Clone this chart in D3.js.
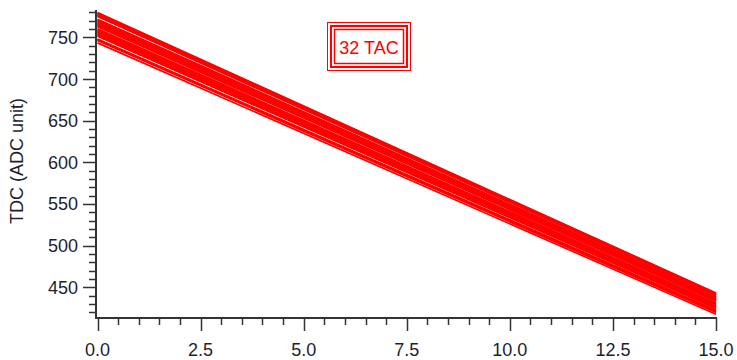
<!DOCTYPE html>
<html><head><meta charset="utf-8">
<script src="https://cdn.jsdelivr.net/npm/d3@7"></script>
<style>body{margin:0;background:#fff}svg{display:block}text{font-family:Arial,"Liberation Sans",sans-serif}</style>
</head><body><svg id="c" width="737" height="360"></svg>
<script>
// Data: 32 TAC lines, TDC value at x=0 and x=15
const xValues = [0, 15];
const startValues = [780, 779.2, 778.4, 777.6, 776.8, 776, 775.2,
  772, 771, 770, 769, 768, 767, 766, 765, 764, 763,
  760.5, 759.5, 758.5, 757.5, 756.5, 755.5, 754.5, 753.5, 752.5, 751.5,
  748, 747.5, 747, 746.5,
  743.5];
const endValues = [443, 442.5, 442, 441.5, 441, 440.5, 440,
  438.5, 438, 437.5, 437, 436, 435.5, 435, 434.5, 434, 433,
  431, 430.5, 429.5, 429, 428, 427.5, 427, 426, 425.5, 424.5,
  422.5, 421.5, 420.5, 419.5,
  417.5];
const xTicks = [0, 2.5, 5, 7.5, 10, 12.5, 15];
const yTicks = [450, 500, 550, 600, 650, 700, 750];
const legendLabel = "32 TAC";
const yTitle = "TDC (ADC unit)";

const svg = d3.select("#c");
const x = d3.scaleLinear().domain([0, 15]).range([97.5, 716]);
const y = d3.scaleLinear().domain([413, 783]).range([318, 10]);
const axisColor = "#333";

const series = startValues.map((s, i) => [[xValues[0], s], [xValues[1], endValues[i]]]);
const line = d3.line().x(d => x(d[0])).y(d => y(d[1]));
svg.append("g").selectAll("path").data(series).join("path")
  .attr("d", line).attr("fill", "none").attr("stroke", "#ff0000").attr("stroke-width", 1.7);

// Y axis
const yMinor = d3.range(420, 781, 10).filter(v => v % 50 !== 0);
const ya = svg.append("g").attr("transform", "translate(96,0)");
ya.append("line").attr("y1", 10).attr("y2", 318.5).attr("stroke", axisColor).attr("stroke-width", 2);
ya.selectAll(".mi").data(yMinor).join("line").attr("x1", -7).attr("x2", 0)
  .attr("y1", d => Math.round(y(d)) + 0.5).attr("y2", d => Math.round(y(d)) + 0.5).attr("stroke", axisColor).attr("stroke-width", 1.5);
ya.selectAll(".ma").data(yTicks).join("line").attr("x1", -13).attr("x2", 0)
  .attr("y1", d => Math.round(y(d)) + 0.5).attr("y2", d => Math.round(y(d)) + 0.5).attr("stroke", axisColor).attr("stroke-width", 1.5);
ya.selectAll("text").data(yTicks).join("text").attr("x", -18).attr("y", d => y(d)).attr("dy", "0.36em")
  .attr("text-anchor", "end").attr("font-size", 18).attr("fill", "#1e1e30").text(d => d);

// X axis
const xMinor = d3.range(0.5, 15, 0.5).filter(v => v % 2.5 !== 0);
const xa = svg.append("g").attr("transform", "translate(0,318)");
xa.append("line").attr("x1", 95).attr("x2", 717).attr("stroke", axisColor).attr("stroke-width", 2);
xa.selectAll(".mi").data(xMinor).join("line").attr("y1", 0).attr("y2", 7)
  .attr("x1", d => Math.round(x(d)) + 0.5).attr("x2", d => Math.round(x(d)) + 0.5).attr("stroke", axisColor).attr("stroke-width", 1.5);
xa.selectAll(".ma").data(xTicks).join("line").attr("y1", 0).attr("y2", 13)
  .attr("x1", d => Math.round(x(d)) + 0.5).attr("x2", d => Math.round(x(d)) + 0.5).attr("stroke", axisColor).attr("stroke-width", 1.5);
xa.selectAll("text").data(xTicks).join("text").attr("x", d => x(d)).attr("y", 38)
  .attr("text-anchor", "middle").attr("font-size", 18).attr("fill", "#1e1e30").text(d => d3.format(".1f")(d));

// Y title
svg.append("text").attr("transform", "translate(23,161) rotate(-90)").attr("text-anchor", "middle")
  .attr("font-size", 18).attr("fill", "#1e1e30").text(yTitle);

// Legend box
const lg = svg.append("g");
lg.append("rect").attr("x", 327.5).attr("y", 22.5).attr("width", 83).attr("height", 48).attr("fill", "#fff").attr("stroke", "#ff0000").attr("stroke-width", 1);
lg.append("rect").attr("x", 331).attr("y", 26).attr("width", 76).attr("height", 41).attr("fill", "none").attr("stroke", "#ff0000").attr("stroke-width", 2);
lg.append("rect").attr("x", 334.5).attr("y", 29.5).attr("width", 69).attr("height", 34).attr("fill", "none").attr("stroke", "#ff0000").attr("stroke-width", 1.5);
lg.append("text").attr("x", 369).attr("y", 53.5).attr("text-anchor", "middle").attr("font-size", 18).attr("fill", "#ff0000").text(legendLabel);
</script></body></html>
